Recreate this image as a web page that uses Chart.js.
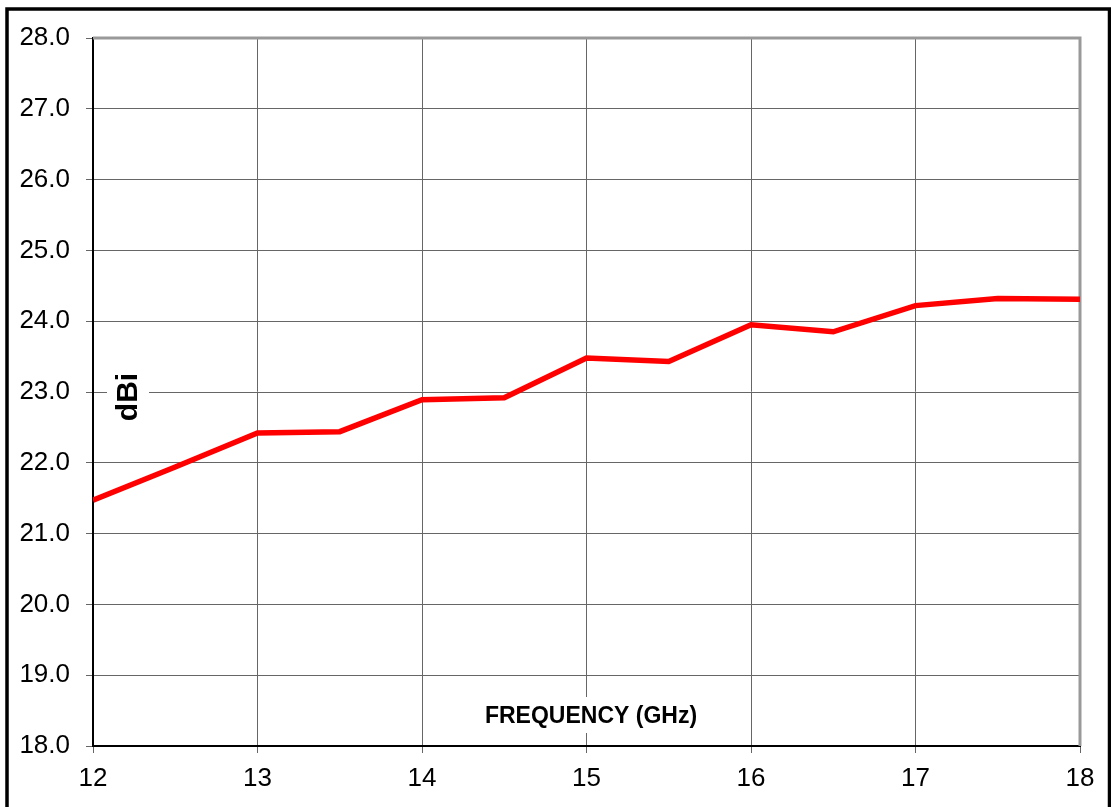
<!DOCTYPE html>
<html>
<head>
<meta charset="utf-8">
<script src="https://cdn.jsdelivr.net/npm/chart.js@4.4.1/dist/chart.umd.min.js"></script>
<style>
  html, body { margin: 0; padding: 0; background: #fff; }
  #kutu { width: 1111px; height: 807px; position: relative; }
</style>
</head>
<body>
<div id="kutu"><canvas id="grafik"></canvas></div>
<script>
// frekans (GHz) ve kazanç (dBi) değerleri
const frekanslar = [12, 12.5, 13, 13.5, 14, 14.5, 15, 15.5, 16, 16.5, 17, 17.5, 18];
const kazanc = [21.47, 21.94, 22.42, 22.44, 22.89, 22.92, 23.48, 23.43, 23.95, 23.85, 24.22, 24.32, 24.31];
const xTikler = [12, 13, 14, 15, 16, 17, 18];
const yTikler = [18, 19, 20, 21, 22, 23, 24, 25, 26, 27, 28];

const yazi = "'Liberation Sans', Arial, sans-serif";

const noktalar = frekanslar.map((f, i) => ({ x: f, y: kazanc[i] }));

// çerçeve, gri kenarlar ve eksen başlıkları
const cizimEklentisi = {
  id: 'cizimEklentisi',
  beforeDatasetsDraw(chart) {
    const { ctx, chartArea: a } = chart;
    ctx.save();
    ctx.strokeStyle = '#999999';
    ctx.lineWidth = 3;
    ctx.beginPath();
    ctx.moveTo(a.left, a.top);
    ctx.lineTo(a.right, a.top);
    ctx.lineTo(a.right, a.bottom);
    ctx.stroke();

    // dBi etiketi
    ctx.fillStyle = '#fff';
    ctx.fillRect(107, 368, 42, 60);
    ctx.translate(129, 397);
    ctx.rotate(-Math.PI / 2);
    ctx.fillStyle = '#000';
    ctx.font = 'bold 30px ' + yazi;
    ctx.textAlign = 'center';
    ctx.textBaseline = 'middle';
    ctx.fillText('dBi', 0, 0);
    ctx.restore();

    // FREQUENCY (GHz)
    ctx.save();
    ctx.font = 'bold 23px ' + yazi;
    const w = ctx.measureText('FREQUENCY (GHz)').width;
    ctx.fillStyle = '#fff';
    ctx.fillRect(591 - w / 2 - 6, 697, w + 12, 36);
    ctx.fillStyle = '#000';
    ctx.textAlign = 'center';
    ctx.textBaseline = 'middle';
    ctx.fillText('FREQUENCY (GHz)', 591, 717);
    ctx.restore();
  },
  afterDraw(chart) {
    const { ctx } = chart;
    ctx.save();
    ctx.strokeStyle = '#000';
    ctx.lineWidth = 3.5;
    ctx.strokeRect(7, 9, 1102.5, 830);
    ctx.restore();
  }
};

new Chart(document.getElementById('grafik'), {
  type: 'line',
  data: {
    datasets: [{
      data: noktalar,
      borderColor: '#FF0000',
      borderWidth: 5.5,
      pointRadius: 0,
      tension: 0,
      fill: false
    }]
  },
  options: {
    responsive: true,
    maintainAspectRatio: false,
    animation: false,
    layout: { padding: { top: 38, right: 31, left: 0, bottom: 0 } },
    plugins: {
      legend: { display: false },
      tooltip: { enabled: false }
    },
    scales: {
      x: {
        type: 'linear',
        min: 12,
        max: 18,
        afterBuildTicks: s => { s.ticks = xTikler.map(v => ({ value: v })); },
        afterFit: s => { s.height = 61; },
        grid: { color: '#666666', lineWidth: 1, tickLength: 7, drawTicks: true },
        border: { color: '#000', width: 2 },
        ticks: {
          color: '#000',
          padding: 10,
          maxRotation: 0,
          font: { size: 26, family: yazi }
        }
      },
      y: {
        min: 18,
        max: 28,
        afterBuildTicks: s => { s.ticks = yTikler.map(v => ({ value: v })); },
        afterFit: s => { s.width = 93; },
        grid: { color: '#666666', lineWidth: 1, tickLength: 7, drawTicks: true },
        border: { color: '#000', width: 2 },
        ticks: {
          color: '#000',
          padding: 16,
          font: { size: 26, family: yazi },
          callback: v => Number(v).toFixed(1)
        }
      }
    }
  },
  plugins: [cizimEklentisi]
});
</script>
</body>
</html>
